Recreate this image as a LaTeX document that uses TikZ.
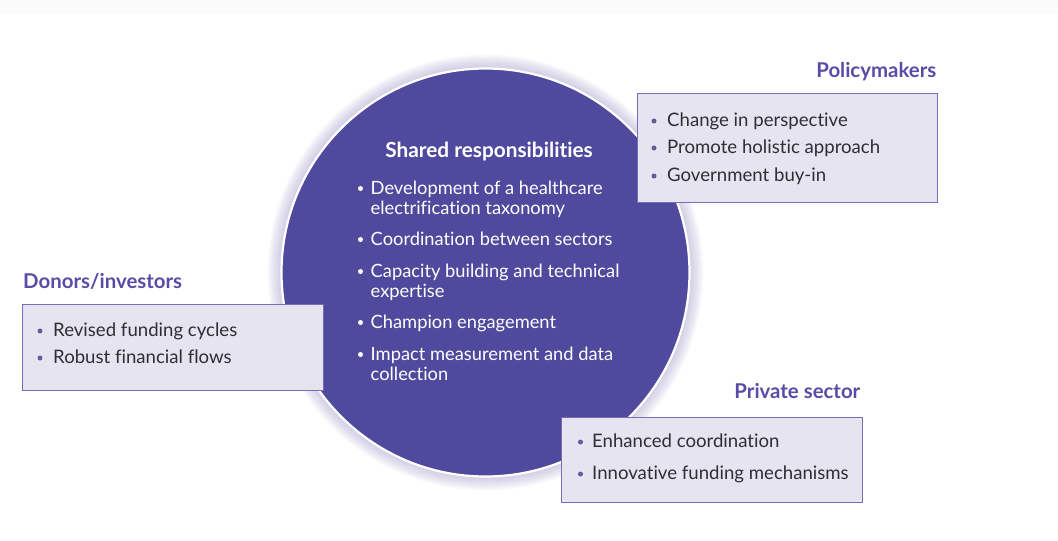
\documentclass[tikz,border=0pt]{standalone}
\usepackage{fontspec}
\setmainfont{Lato}[Ligatures={NoCommon,NoRare,NoDiscretionary}]
\definecolor{circfill}{HTML}{4F4A9D}
\definecolor{titlecol}{HTML}{5A4CA6}
\definecolor{boxfill}{HTML}{E7E4F1}
\definecolor{boxline}{HTML}{7B6AB6}
\definecolor{bodytext}{HTML}{2E2E33}
\definecolor{glowcol}{HTML}{A8A1D0}
\definecolor{topstrip}{HTML}{FBFBFB}
\begin{document}
\begin{tikzpicture}[x=1pt,y=-1pt,
  boxstyle/.style={draw=boxline, line width=0.8pt, fill=boxfill, inner sep=0pt},
  ttl/.style={font=\fontsize{20.4}{24}\selectfont\bfseries, text=titlecol, inner sep=0pt},
  ctitle/.style={font=\fontsize{20.8}{24}\selectfont\bfseries, text=white, inner sep=0pt, anchor=base},
  btxt/.style={font=\fontsize{18.6}{22}\selectfont, text=bodytext, inner sep=0pt, anchor=base west},
  ctxt/.style={font=\fontsize{18.3}{22}\selectfont, text=white, inner sep=0pt, anchor=base west},
  bdot/.style={circle, fill=boxline!85!black, inner sep=0pt, minimum size=5pt},
  cdot/.style={circle, fill=white, inner sep=0pt, minimum size=5pt}]
\useasboundingbox (0,0) rectangle (1058,541);
\fill[white] (0,0) rectangle (1058,541);
\fill[topstrip] (0,0) rectangle (1058,13);
% glow around circle
\foreach \k in {13,12,...,1}{
  \fill[glowcol, opacity=0.045] (485.5,272.5) circle ({205+\k});
}
\node[circle, fill=circfill, draw=white, line width=2.2pt, minimum size=408pt, inner sep=0pt] (circ) at (485.5,272.5) {};
% circle texts
\node[ctitle] (ct) at (489,157) {Shared responsibilities};
\node[cdot] (cd1) at (360.5,188.5) {};
\node[ctxt] (c1a) at (370.5,194) {Development of a healthcare};
\node[ctxt] (c1b) at (370.5,214) {electrification taxonomy};
\node[cdot] (cd2) at (360.5,239.5) {};
\node[ctxt] (c2) at (370.5,245) {Coordination between sectors};
\node[cdot] (cd3) at (360.5,271.5) {};
\node[ctxt] (c3a) at (370.5,277) {Capacity building and technical};
\node[ctxt] (c3b) at (370.5,297) {expertise};
\node[cdot] (cd4) at (360.5,322.5) {};
\node[ctxt] (c4) at (370.5,328) {Champion engagement};
\node[cdot] (cd5) at (360.5,354.5) {};
\node[ctxt] (c5a) at (370.5,360) {Impact measurement and data};
\node[ctxt] (c5b) at (370.5,380) {collection};
% Policymakers
\node[ttl, anchor=base east] (pt) at (936.5,77) {Policymakers};
\draw[boxstyle] (637.5,93.5) rectangle (937.5,202);
\node[bdot] (pd1) at (654,121) {};
\node[btxt] (p1) at (667,126) {Change in perspective};
\node[bdot] (pd2) at (654,148) {};
\node[btxt] (p2) at (667,153) {Promote holistic approach};
\node[bdot] (pd3) at (654,176) {};
\node[btxt] (p3) at (667,181) {Government buy-in};
% Donors
\node[ttl, anchor=base west] (dt) at (23,288) {Donors/investors};
\draw[boxstyle] (22.5,304.5) rectangle (323,390);
\node[bdot] (dd1) at (40,331) {};
\node[btxt] (d1) at (53,336) {Revised funding cycles};
\node[bdot] (dd2) at (40,358) {};
\node[btxt] (d2) at (53,363) {Robust financial flows};
% Private sector
\node[ttl, anchor=base east] (st) at (860.5,398) {Private sector};
\draw[boxstyle] (561.5,417.5) rectangle (862.5,502.5);
\node[bdot] (sd1) at (580.5,442) {};
\node[btxt] (s1) at (592,447) {Enhanced coordination};
\node[bdot] (sd2) at (580.5,474) {};
\node[btxt] (s2) at (592,479) {Innovative funding mechanisms};
\end{tikzpicture}
\end{document}
